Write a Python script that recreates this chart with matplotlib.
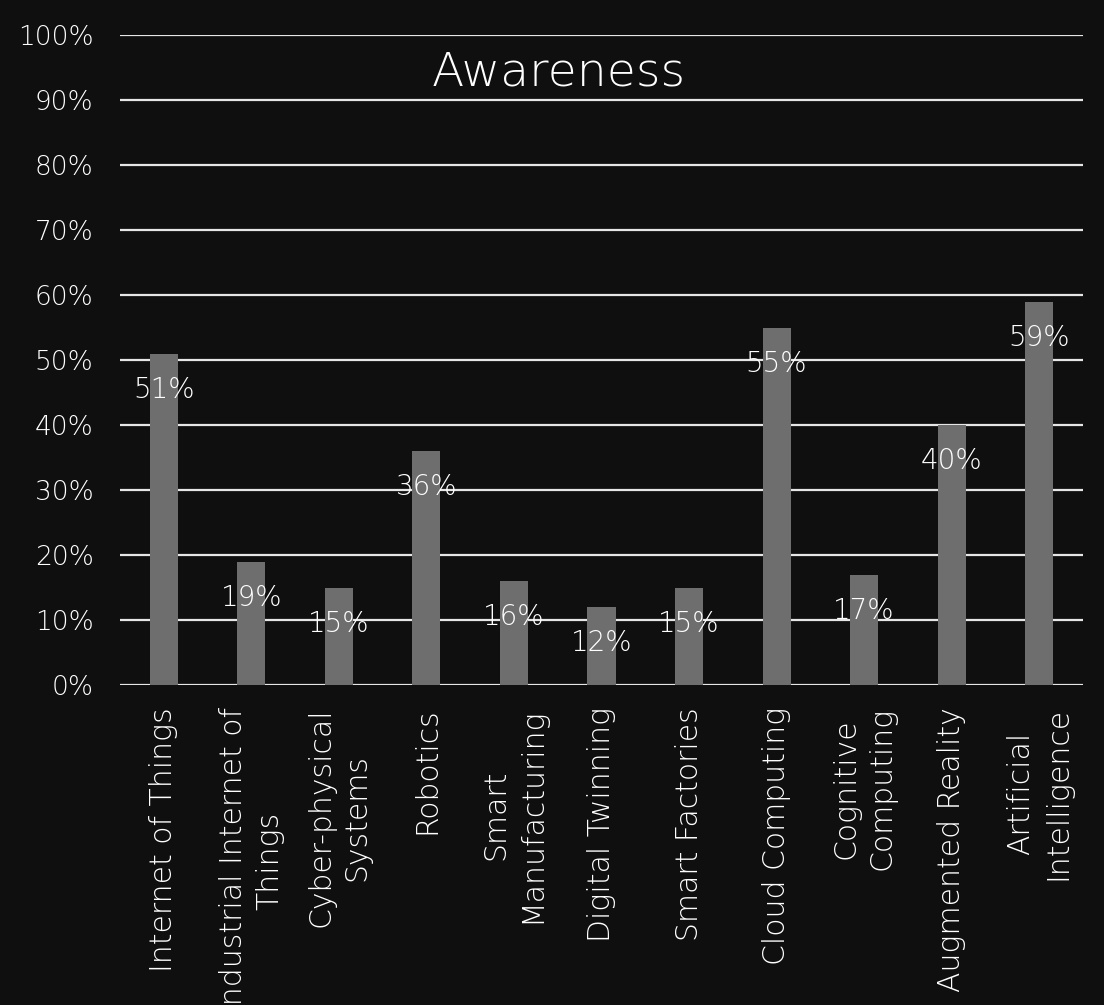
import matplotlib
matplotlib.use("Agg")
import matplotlib.pyplot as plt
from matplotlib.ticker import PercentFormatter

categories = ["Internet of Things", "Industrial Internet of\nThings", "Cyber-physical\nSystems",
              "Robotics", "Smart\nManufacturing", "Digital Twinning", "Smart Factories",
              "Cloud Computing", "Cognitive\nComputing", "Augmented Reality",
              "Artificial\nIntelligence"]
values = [51, 19, 15, 36, 16, 12, 15, 55, 17, 40, 59]
yticks = [0, 10, 20, 30, 40, 50, 60, 70, 80, 90, 100]
title = "Awareness"

bg = "#0f0f10"
bar_color = "#6e6e6e"
txt = "#ffffff"
fam = ["DejaVu Sans"]

fig = plt.figure(figsize=(11.04, 10.05), dpi=100, facecolor=bg)
ax = fig.add_axes([120/1104, 1-685/1005, (1083-120)/1104, (685-35)/1005])
ax.set_facecolor(bg)

x = list(range(len(categories)))
ax.bar(x, values, width=0.32, color=bar_color, zorder=3)
ax.set_xlim(-0.5, len(categories)-0.5)
ax.set_ylim(0, 100)
ax.set_yticks(yticks)
ax.yaxis.set_major_formatter(PercentFormatter(decimals=0))
ax.grid(axis="y", color="#e6e6e6", linewidth=1.6, zorder=1)
for s in ax.spines.values():
    s.set_visible(False)
ax.tick_params(axis="both", length=0, colors=txt)
ax.tick_params(axis="y", pad=19)
for lab in ax.get_yticklabels():
    lab.set_fontsize(19)
    lab.set_fontfamily(fam)
    lab.set_fontweight("light")

ax.set_xticks(x)
ax.set_xticklabels(categories, rotation=90, ha="center", va="top",
                   multialignment="center", fontsize=21.5, color=txt,
                   linespacing=1.33, family=fam, weight="light")
ax.tick_params(axis="x", pad=16)

for xi, v in zip(x, values):
    ax.annotate(f"{v}%", (xi, v), xytext=(0, -26), textcoords="offset points",
                ha="center", va="center", fontsize=20, color=txt, zorder=4,
                family=fam, weight="light")

fig.text(559/1104, 1-72/1005, title, ha="center", va="center", fontsize=34,
         color=txt, family=fam, weight="light")

fig.savefig("out.png", dpi=100, facecolor=bg)
